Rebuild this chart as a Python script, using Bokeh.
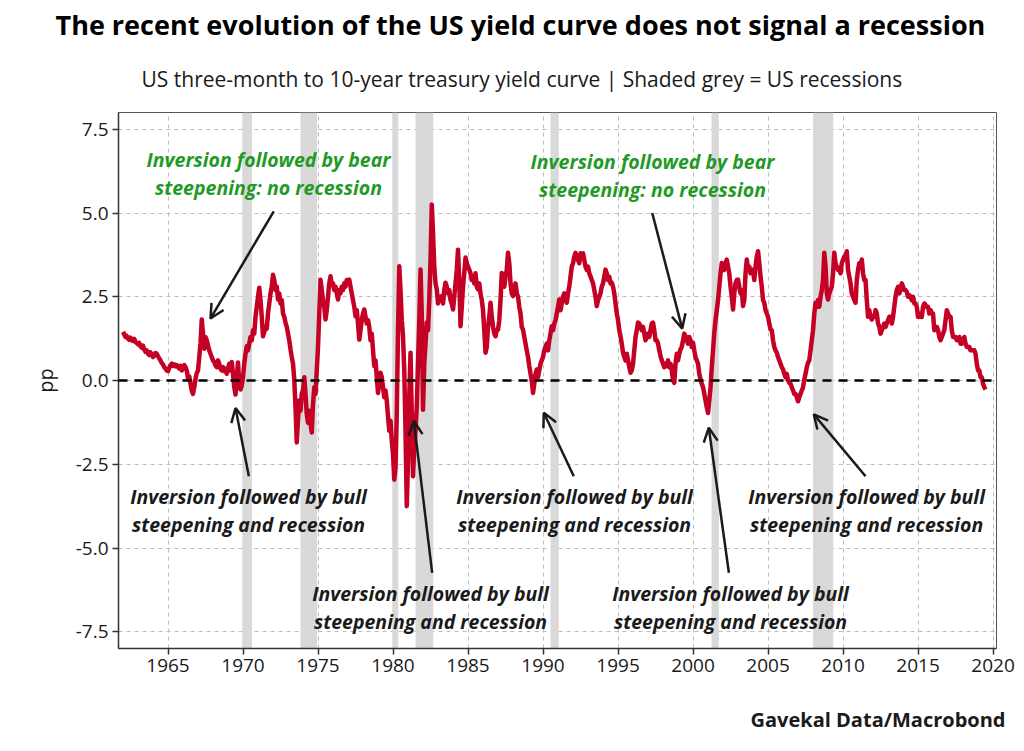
from bokeh.plotting import figure
from bokeh.models import (Range1d, FixedTicker, NumeralTickFormatter, Span, Arrow,
                          OpenHead, Label, Title, ColumnDataSource)
from bokeh.embed import file_html
from bokeh.resources import INLINE

# ---------------- data ----------------
start_year = 1962  # monthly observations from Jan 1962
spread_pp = [
    # 1962
    1.45, 1.38, 1.30, 1.33, 1.25, 1.22, 1.28, 1.20, 1.18, 1.24, 1.15, 1.12,
    # 1963
    1.08, 1.12, 1.02, 0.98, 1.04, 0.92, 0.86, 0.90, 0.80, 0.76, 0.84, 0.78,
    # 1964
    0.70, 0.74, 0.82, 0.80, 0.72, 0.66, 0.60, 0.52, 0.48, 0.40, 0.36, 0.30,
    # 1965
    0.28, 0.38, 0.46, 0.50, 0.44, 0.48, 0.42, 0.46, 0.40, 0.36, 0.44, 0.30,
    # 1966
    0.38, 0.46, 0.40, 0.30, 0.06, 0.12, -0.10, -0.30, -0.40, -0.20, 0.05, 0.22,
    # 1967
    0.30, 0.70, 1.10, 1.82, 1.40, 0.95, 1.30, 1.20, 1.05, 0.90, 0.80, 0.70,
    # 1968
    0.60, 0.55, 0.45, 0.40, 0.60, 0.50, 0.35, 0.30, 0.40, 0.28, 0.35, 0.20,
    # 1969
    0.35, 0.50, 0.30, 0.55, 0.20, -0.20, -0.42, 0.10, 0.54, -0.10, -0.27, -0.15,
    # 1970
    0.10, 0.50, 0.80, 1.02, 0.90, 1.10, 1.30, 1.20, 1.50, 1.40, 1.90, 2.20,
    # 1971
    2.50, 2.77, 2.40, 1.90, 1.32, 1.45, 1.60, 1.55, 2.00, 2.30, 2.60, 2.80,
    # 1972
    3.16, 3.00, 2.70, 2.80, 2.42, 2.60, 2.30, 2.40, 2.00, 1.90, 1.73, 1.60,
    # 1973
    1.40, 1.20, 0.93, 0.70, 0.50, 0.03, -0.80, -1.85, -1.20, -0.60, -0.90, -0.40,
    # 1974
    -0.30, 0.10, -0.40, -1.00, -1.26, -0.90, -1.30, -1.55, -0.70, -0.20, -0.40, 0.30,
    # 1975
    1.00, 2.00, 3.01, 2.70, 2.40, 2.20, 1.82, 2.10, 2.50, 2.90, 3.11, 2.85,
    # 1976
    2.90, 2.70, 2.80, 2.60, 2.42, 2.70, 2.60, 2.80, 2.70, 2.90, 2.80, 3.00,
    # 1977
    2.90, 3.01, 2.80, 2.60, 2.40, 2.20, 1.92, 2.10, 1.70, 1.22, 1.50, 1.80,
    # 1978
    2.00, 2.12, 1.90, 1.70, 1.80, 1.60, 1.20, 1.40, 0.90, 0.43, 0.60, 0.10,
    # 1979
    -0.37, -0.10, 0.23, 0.10, -0.20, -0.50, -0.30, -0.60, -1.07, -1.50, -1.20, -1.80,
    # 1980
    -2.20, -2.96, -2.60, -1.00, 1.50, 3.41, 2.70, 1.80, 1.32, 0.30, -1.50, -3.75,
    # 1981
    -2.40, -0.47, 0.83, -1.00, -2.86, -2.00, -1.50, -0.77, 0.50, 1.80, 3.31, 2.00,
    # 1982
    -0.87, 0.50, 1.10, 1.73, 1.50, 2.40, 3.60, 5.25, 4.40, 3.40, 2.90, 2.72,
    # 1983
    2.30, 2.50, 2.40, 2.52, 2.30, 2.70, 2.92, 2.80, 2.60, 2.70, 2.40, 2.30,
    # 1984
    2.12, 2.50, 2.90, 3.30, 3.90, 3.00, 1.62, 2.20, 2.80, 3.20, 3.67, 3.50,
    # 1985
    3.40, 3.31, 3.20, 3.00, 3.10, 2.90, 3.20, 2.80, 2.72, 2.90, 2.60, 2.40,
    # 1986
    2.10, 1.50, 0.83, 1.00, 1.60, 1.90, 2.32, 1.90, 1.60, 1.40, 1.32, 1.50,
    # 1987
    1.52, 1.80, 2.40, 3.21, 3.00, 2.80, 3.10, 3.30, 3.81, 3.50, 2.90, 2.60,
    # 1988
    2.52, 2.70, 2.90, 2.60, 2.50, 2.20, 2.00, 1.60, 1.52, 1.30, 1.10, 0.90,
    # 1989
    0.70, 0.43, 0.20, 0.00, -0.37, -0.10, 0.20, 0.33, 0.10, 0.30, 0.50, 0.60,
    # 1990
    0.70, 0.90, 1.02, 1.10, 0.90, 1.20, 1.40, 1.62, 1.50, 1.70, 1.80, 2.00,
    # 1991
    2.20, 2.42, 2.10, 2.30, 2.50, 2.60, 2.40, 2.32, 2.60, 2.80, 3.10, 3.40,
    # 1992
    3.50, 3.70, 3.81, 3.70, 3.60, 3.50, 3.80, 3.70, 3.80, 3.60, 3.40, 3.30,
    # 1993
    3.40, 3.20, 3.11, 3.00, 2.90, 2.70, 2.50, 2.22, 2.40, 2.50, 2.60, 2.80,
    # 1994
    2.90, 3.10, 3.31, 3.20, 3.00, 3.10, 2.90, 2.92, 2.80, 2.60, 2.30, 2.00,
    # 1995
    1.80, 1.50, 1.32, 1.10, 0.83, 0.70, 0.60, 0.80, 0.60, 0.40, 0.23, 0.30,
    # 1996
    0.50, 0.90, 1.30, 1.50, 1.73, 1.70, 1.60, 1.50, 1.60, 1.40, 1.20, 1.30,
    # 1997
    1.40, 1.30, 1.50, 1.70, 1.73, 1.50, 1.20, 1.20, 1.10, 0.90, 0.73, 0.60,
    # 1998
    0.50, 0.40, 0.50, 0.43, 0.60, 0.40, 0.50, 0.30, 0.00, -0.07, 0.50, 0.80,
    # 1999
    0.60, 0.80, 0.93, 1.00, 1.20, 1.40, 1.32, 1.20, 1.10, 1.30, 1.20, 1.00,
    # 2000
    1.13, 0.90, 0.70, 0.60, 0.50, 0.20, 0.03, -0.10, -0.20, -0.40, -0.60, -0.80,
    # 2001
    -0.97, -0.60, -0.20, 0.40, 0.90, 1.42, 1.80, 2.10, 2.40, 2.80, 3.20, 3.51,
    # 2002
    3.40, 3.30, 3.50, 3.61, 3.40, 3.20, 2.80, 2.50, 2.12, 2.60, 2.90, 3.00,
    # 2003
    3.01, 2.80, 2.60, 2.70, 2.22, 2.40, 3.20, 3.61, 3.30, 3.40, 3.20, 3.30,
    # 2004
    3.31, 3.00, 3.40, 3.70, 3.86, 3.50, 3.10, 2.80, 2.40, 2.32, 2.10, 2.00,
    # 2005
    1.90, 1.70, 1.52, 1.50, 1.20, 1.00, 0.90, 0.83, 0.70, 0.60, 0.50, 0.40,
    # 2006
    0.33, 0.20, 0.10, 0.20, 0.00, -0.07, -0.10, -0.20, -0.30, -0.40, -0.40, -0.50,
    # 2007
    -0.62, -0.50, -0.40, -0.30, -0.20, 0.03, 0.20, 0.40, 0.53, 0.60, 0.90, 1.20,
    # 2008
    1.50, 2.00, 2.32, 2.20, 2.40, 2.20, 2.50, 2.70, 3.00, 3.81, 3.40, 2.60,
    # 2009
    2.42, 2.60, 2.70, 2.80, 3.20, 3.81, 3.50, 3.40, 3.30, 3.30, 3.20, 3.50,
    # 2010
    3.60, 3.70, 3.70, 3.86, 3.30, 3.10, 2.90, 2.60, 2.50, 2.40, 2.32, 3.00,
    # 2011
    3.30, 3.50, 3.40, 3.61, 3.20, 3.00, 3.00, 2.40, 1.90, 2.10, 1.90, 1.82,
    # 2012
    1.90, 1.90, 2.10, 2.00, 1.70, 1.60, 1.40, 1.50, 1.60, 1.70, 1.60, 1.70,
    # 2013
    1.80, 1.90, 1.90, 1.70, 1.90, 2.20, 2.50, 2.70, 2.80, 2.60, 2.70, 2.90,
    # 2014
    2.80, 2.70, 2.70, 2.65, 2.50, 2.55, 2.50, 2.40, 2.50, 2.30, 2.30, 2.20,
    # 2015
    1.90, 1.90, 2.00, 1.90, 2.20, 2.30, 2.25, 2.20, 2.20, 2.00, 2.10, 2.00,
    # 2016
    2.00, 1.50, 1.60, 1.60, 1.50, 1.30, 1.20, 1.30, 1.40, 1.50, 1.80, 2.10,
    # 2017
    2.00, 1.90, 1.90, 1.50, 1.30, 1.30, 1.30, 1.20, 1.20, 1.30, 1.10, 1.10,
    # 2018
    1.20, 1.30, 1.10, 1.00, 1.00, 1.00, 0.90, 0.90, 0.90, 0.90, 0.80, 0.50,
    # 2019
    0.30, 0.30, 0.10, 0.10, -0.10, -0.20, -0.27,
]
dates = [start_year + i / 12 for i in range(len(spread_pp))]

recession_start = [1969.95, 1973.83, 1979.95, 1981.50, 1990.50, 2001.23, 2008.00]
recession_end = [1970.60, 1974.95, 1980.35, 1982.68, 1991.05, 2001.72, 2009.35]

x_ticks = [1965, 1970, 1975, 1980, 1985, 1990, 1995, 2000, 2005, 2010, 2015, 2020]
y_ticks = [-7.5, -5.0, -2.5, 0.0, 2.5, 5.0, 7.5]

bear_text = ["Inversion followed by bear", "steepening: no recession"]
bull_text = ["Inversion followed by bull", "steepening and recession"]
# annotation anchor (centre of first text line) and arrow (tail -> head)
bear_x = [1971.7, 1997.3]
bear_y = [6.6, 6.54]
bear_arrow_tail = [(1972.05, 5.05), (1997.28, 5.0)]
bear_arrow_head = [(1967.83, 1.85), (1999.28, 1.55)]
bull_x = [1970.37, 1982.5, 1992.1, 2002.5, 2011.57]
bull_y = [-3.46, -6.36, -3.46, -6.36, -3.46]
bull_arrow_tail = [(1970.39, -2.86), (1982.61, -5.74), (1992.05, -2.86),
                   (2002.39, -5.74), (2011.5, -2.86)]
bull_arrow_head = [(1969.5, -0.82), (1981.39, -1.21), (1990.05, -0.96),
                   (2001.05, -1.41), (2008.05, -1.01)]

# ---------------- figure ----------------
FONT = "Open Sans"
RED = "#c40025"
GREEN = "#1f9a26"
DARK = "#1a1a1a"

p = figure(frame_width=878, frame_height=536,
           min_border_left=118, min_border_right=20,
           min_border_top=112, min_border_bottom=95,
           x_range=Range1d(1961.7, 2020.23), y_range=Range1d(-8, 8),
           output_backend="svg", toolbar_location=None, tools="")
p.background_fill_color = "white"
p.border_fill_color = "white"
p.outline_line_color = "#555555"
p.outline_line_width = 1

# recession shading
rec_src = ColumnDataSource(dict(left=recession_start, right=recession_end,
                                bottom=[-8] * len(recession_start),
                                top=[8] * len(recession_start)))
p.quad(left="left", right="right", bottom="bottom", top="top", source=rec_src,
       fill_color="#d9d9d9", line_color=None)

# zero line
p.add_layout(Span(location=0, dimension="width", line_color="black",
                  line_width=2.5, line_dash="9 7"))

# series
p.line(dates, spread_pp, line_color=RED, line_width=4.5, line_join="round")

# axes
p.xaxis.ticker = FixedTicker(ticks=x_ticks)
p.yaxis.ticker = FixedTicker(ticks=y_ticks)
p.yaxis.formatter = NumeralTickFormatter(format="0.0")
for ax in (p.xaxis[0], p.yaxis[0]):
    ax.major_label_text_font = FONT
    ax.major_label_text_font_size = "19px"
    ax.major_label_text_color = DARK
    ax.axis_line_color = "#333333"
    ax.axis_line_width = 1.5
    ax.major_tick_line_color = "#333333"
    ax.major_tick_line_width = 1.5
    ax.major_tick_out = 6
    ax.major_tick_in = 0
    ax.minor_tick_line_color = None
    ax.major_label_standoff = 4
p.yaxis.axis_label = "pp"
p.yaxis.axis_label_text_font = FONT
p.yaxis.axis_label_text_font_size = "20px"
p.yaxis.axis_label_text_font_style = "normal"
p.yaxis.axis_label_text_color = DARK
p.yaxis.axis_label_standoff = 14

# grids
for g in (p.xgrid[0], p.ygrid[0]):
    g.grid_line_color = "#bdbdbd"
    g.grid_line_dash = "4 4"
    g.grid_line_width = 1
p.xgrid.ticker = FixedTicker(ticks=x_ticks)
p.ygrid.ticker = FixedTicker(ticks=y_ticks)

# annotations
def add_block(lines, x, y, color):
    gap = 0.84
    for k, t in enumerate(lines):
        p.add_layout(Label(x=x, y=y - k * gap, text=t, text_align="center",
                           text_baseline="middle", text_font=FONT,
                           text_font_size="19.5px", text_font_style="bold italic",
                           text_color=color))

for i in range(len(bear_x)):
    add_block(bear_text, bear_x[i], bear_y[i], GREEN)
    (xs, ys), (xe, ye) = bear_arrow_tail[i], bear_arrow_head[i]
    p.add_layout(Arrow(end=OpenHead(size=14, line_width=2.5, line_color=DARK),
                       x_start=xs, y_start=ys, x_end=xe, y_end=ye,
                       line_width=2.5, line_color=DARK))
for i in range(len(bull_x)):
    add_block(bull_text, bull_x[i], bull_y[i], DARK)
    (xs, ys), (xe, ye) = bull_arrow_tail[i], bull_arrow_head[i]
    p.add_layout(Arrow(end=OpenHead(size=14, line_width=2.5, line_color=DARK),
                       x_start=xs, y_start=ys, x_end=xe, y_end=ye,
                       line_width=2.5, line_color=DARK))

# titles
sub = Title(text="US three-month to 10-year treasury yield curve | Shaded grey = US recessions",
            align="left", offset=23, text_font=FONT, text_font_size="21px",
            text_font_style="normal", text_color=DARK, standoff=40)
p.add_layout(sub, "above")
main = Title(text="The recent evolution of the US yield curve does not signal a recession",
             align="left", offset=-63, text_font=FONT, text_font_size="27px",
             text_font_style="bold", text_color="black", standoff=0)
p.add_layout(main, "above")
src = Title(text="Gavekal Data/Macrobond", align="right", offset=-9,
            text_font=FONT, text_font_size="20px", text_font_style="bold",
            text_color=DARK, standoff=58)
p.add_layout(src, "below")

open("out.html", "w").write(file_html(p, INLINE))
